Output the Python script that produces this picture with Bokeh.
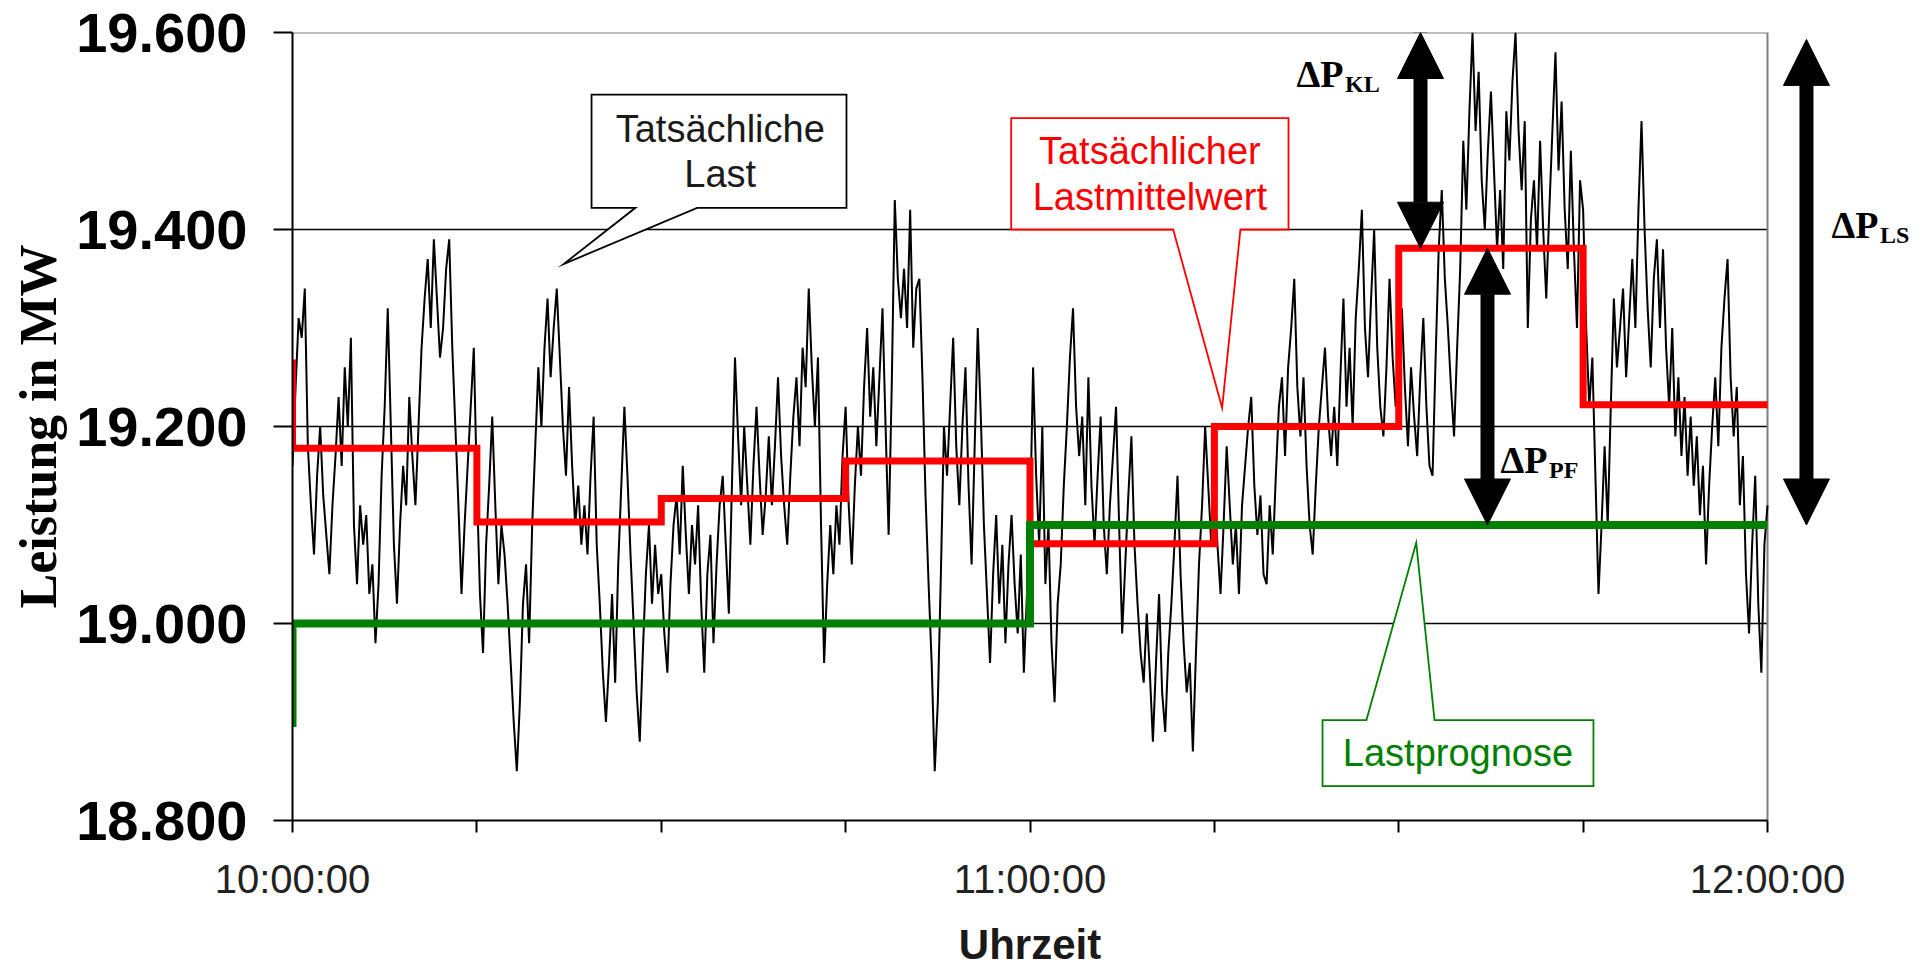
from bokeh.plotting import figure
from bokeh.models import FixedTicker, Arrow, NormalHead, Label, LinearAxis
from bokeh.embed import file_html
from bokeh.resources import INLINE

# ------------------------------------------------------------------ data
SAMPLE_MIN = 0.25  # one reading every 15 s, minutes after 10:00:00
load_mw = [
    19160, 19240, 19310, 19290, 19340, 19180, 19120, 19070, 19150, 19200, 19130, 19090, 19050, 19120, 19170, 19230, 19160, 19260, 19200, 19290,
    19100, 19040, 19120, 19080, 19110, 19030, 19060, 18980, 19040, 19150, 19220, 19320, 19200, 19080, 19020, 19100, 19160, 19120, 19230, 19170,
    19120, 19200, 19280, 19330, 19370, 19300, 19390, 19330, 19270, 19300, 19360, 19390, 19280, 19200, 19120, 19030, 19100, 19160, 19220, 19280,
    19140, 19030, 18970, 19080, 19140, 19210, 19120, 19040, 19100, 19070, 19020, 18960, 18900, 18850, 18920, 19020, 19060, 18980, 19100, 19180,
    19260, 19200, 19280, 19330, 19250, 19300, 19340, 19270, 19200, 19150, 19240, 19160, 19100, 19140, 19080, 19120, 19070, 19150, 19210, 19080,
    19020, 18950, 18900, 18960, 19030, 18940, 19060, 19140, 19220, 19150, 19070, 19000, 18930, 18880, 18970, 19050, 19100, 19020, 19080, 19030,
    19050, 18990, 18950, 19040, 19100, 19130, 19070, 19160, 19090, 19030, 19100, 19060, 19120, 19020, 18950, 19050, 19090, 18980, 19060, 19120,
    19150, 19080, 19010, 19140, 19270, 19190, 19120, 19200, 19140, 19080, 19160, 19220, 19150, 19090, 19130, 19190, 19120, 19180, 19250, 19170,
    19120, 19080, 19150, 19210, 19250, 19180, 19280, 19240, 19340, 19260, 19200, 19270, 19100, 18960, 19040, 19100, 19050, 19120, 19080, 19170,
    19220, 19120, 19060, 19140, 19200, 19150, 19240, 19300, 19210, 19260, 19180, 19250, 19320, 19200, 19090, 19240, 19430, 19350, 19310, 19360,
    19300, 19420, 19280, 19340, 19350, 19250, 19130, 19040, 18960, 18850, 18920, 19050, 19200, 19150, 19220, 19290, 19180, 19120, 19200, 19260,
    19140, 19060, 19180, 19300, 19210, 19100, 19030, 18960, 19050, 19110, 19020, 19080, 18980, 19060, 19110, 19040, 18990, 19070, 18950, 19030,
    19100, 19260, 19150, 19080, 19200, 19040, 19100, 18980, 18920, 19020, 19060, 19140, 19200, 19270, 19320, 19220, 19170, 19210, 19120, 19250,
    19140, 19080, 19150, 19210, 19100, 19050, 19120, 19170, 19220, 19100, 18990, 19060, 19130, 19190, 19080, 19020, 18970, 18940, 19010, 18950,
    18880, 18960, 19030, 18930, 18890, 18970, 19020, 19080, 19150, 19050, 18980, 18930, 18960, 18870, 18970, 19060, 19120, 19200, 19140, 19080,
    19150, 19080, 19030, 19100, 19180, 19120, 19060, 19100, 19030, 19120, 19160, 19200, 19230, 19140, 19090, 19130, 19050, 19040, 19120, 19070,
    19150, 19220, 19250, 19170, 19260, 19300, 19350, 19240, 19190, 19250, 19160, 19100, 19070, 19140, 19200, 19240, 19280, 19210, 19170, 19220,
    19160, 19250, 19330, 19220, 19280, 19200, 19310, 19360, 19420, 19300, 19250, 19330, 19400, 19280, 19220, 19190, 19260, 19350, 19270, 19220,
    19280, 19320, 19240, 19180, 19260, 19210, 19170, 19250, 19310, 19220, 19160, 19150, 19270, 19380, 19440, 19350, 19300, 19240, 19190, 19280,
    19360, 19490, 19420, 19520, 19600, 19500, 19560, 19450, 19400, 19480, 19540, 19460, 19380, 19440, 19360, 19520, 19470, 19550, 19600, 19500,
    19440, 19510, 19300, 19410, 19450, 19380, 19490, 19400, 19330, 19420, 19500, 19580, 19460, 19530, 19420, 19360, 19480, 19380, 19300, 19450,
    19420, 19300, 19220, 19270, 19150, 19030, 19100, 19180, 19100, 19220, 19330, 19260, 19300, 19340, 19250, 19310, 19370, 19300, 19420, 19510,
    19400, 19320, 19260, 19350, 19390, 19300, 19380, 19280, 19220, 19300, 19190, 19250, 19170, 19230, 19150, 19210, 19140, 19190, 19110, 19160,
    19060, 19140, 19200, 19250, 19180, 19280, 19330, 19370, 19250, 19190, 19240, 19120, 19170, 19050, 18990, 19080, 19150, 19020, 18950, 19080, 19120,
]
load_min = [i * SAMPLE_MIN for i in range(len(load_mw))]

mean_edges_min = [0, 15, 30, 45, 60, 75, 90, 105, 120]
mean_mw = [19178, 19103, 19127, 19165, 19081, 19200, 19381, 19222]
mean_prev_mw = 19268

forecast_edges_min = [0, 60, 120]
forecast_mw = [19000, 19100]
forecast_prev_mw = 18895

y_ticks_mw = [18800, 19000, 19200, 19400, 19600]
x_ticks_min = [0, 15, 30, 45, 60, 75, 90, 105, 120]
x_tick_text = {0: "10:00:00", 60: "11:00:00", 120: "12:00:00"}
x_title = "Uhrzeit"
y_title = "Leistung in MW"

# ------------------------------------------------------------------ layout
W, H = 1927, 971
FRAME_L, FRAME_T, FRAME_B = 292, 32, 151
AXIS_RIGHT_PX = 1767
X_END = 120 * (W - FRAME_L) / (AXIS_RIGHT_PX - FRAME_L)
PX_PER_MW = (H - FRAME_T - FRAME_B) / 800.0
TEXT_SHIFT = 14 / PX_PER_MW   # renderer places text a little low; lift it

SANS = "Liberation Sans"
SERIF = "Liberation Serif"

p = figure(width=W, height=H, x_range=(0, X_END), y_range=(18800, 19600),
           output_backend="svg", toolbar_location=None,
           min_border_left=FRAME_L, min_border_right=0,
           min_border_top=FRAME_T, min_border_bottom=FRAME_B)
p.grid.visible = False
p.outline_line_color = None
p.background_fill_color = "white"
p.border_fill_color = "white"

# x axis
xa = p.xaxis[0]
xa.ticker = FixedTicker(ticks=x_ticks_min)
xa.major_label_overrides = {t: x_tick_text.get(t, "") for t in x_ticks_min}
xa.bounds = (0, 120)
xa.axis_line_color = "black"
xa.axis_line_width = 2
xa.major_tick_line_color = "black"
xa.major_tick_line_width = 2
xa.major_tick_out = 12
xa.major_tick_in = 0
xa.minor_tick_out = 0
xa.minor_tick_in = 0
xa.major_label_text_font = SANS
xa.major_label_text_font_size = "40px"
xa.major_label_text_color = "#222222"
xa.major_label_standoff = 24

# x-axis title: centred under 10:00 .. 12:00 (the frame itself runs further right)
x_mid = (x_ticks_min[0] + x_ticks_min[-1]) / 2
title_axis = LinearAxis(ticker=FixedTicker(ticks=[x_mid]),
                        major_label_overrides={x_mid: x_title},
                        axis_line_color=None, major_tick_line_color=None,
                        minor_tick_line_color=None,
                        major_tick_out=0, major_tick_in=0,
                        minor_tick_out=0, minor_tick_in=0,
                        major_label_standoff=17,
                        major_label_text_font=SANS,
                        major_label_text_font_style="bold",
                        major_label_text_font_size="42px",
                        major_label_text_color="#1a1a1a")
p.add_layout(title_axis, "below")

# y axis
ya = p.yaxis[0]
ya.ticker = FixedTicker(ticks=y_ticks_mw)
ya.major_label_overrides = {v: f"{v:,}".replace(",", ".") for v in y_ticks_mw}
ya.axis_line_color = "black"
ya.axis_line_width = 2
ya.major_tick_line_color = "black"
ya.major_tick_line_width = 2
ya.major_tick_out = 19
ya.major_tick_in = 0
ya.minor_tick_out = 0
ya.minor_tick_in = 0
ya.major_label_text_font = SANS
ya.major_label_text_font_style = "bold"
ya.major_label_text_font_size = "56px"
ya.major_label_text_color = "black"
ya.major_label_standoff = 26
ya.axis_label = y_title
ya.axis_label_text_font = SERIF
ya.axis_label_text_font_style = "bold"
ya.axis_label_text_font_size = "52px"
ya.axis_label_text_color = "black"
ya.axis_label_standoff = 6

# gridlines and plot-area border (only over 10:00 .. 12:00)
grid_y = [v for v in y_ticks_mw if y_ticks_mw[0] < v < y_ticks_mw[-1]]
p.segment(x0=[0] * len(grid_y), x1=[120] * len(grid_y), y0=grid_y, y1=grid_y,
          line_color="black", line_width=1.6)
p.line([0, 120, 120], [y_ticks_mw[-1], y_ticks_mw[-1], y_ticks_mw[0]],
       line_color="#7f7f7f", line_width=2)


# ------------------------------------------------------------------ series
def step_path(edges, vals, prev):
    xs, ys = [edges[0]], [prev]
    for i, v in enumerate(vals):
        xs += [edges[i], edges[i + 1]]
        ys += [v, v]
    return xs, ys


p.line(load_min, load_mw, line_color="black", line_width=2.0)

mx, my = step_path(mean_edges_min, mean_mw, mean_prev_mw)
p.line(mx, my, line_color="#ff0000", line_width=7, line_join="miter")

fx, fy = step_path(forecast_edges_min, forecast_mw, forecast_prev_mw)
p.line(fx, fy, line_color="#008000", line_width=8, line_join="miter")


# ------------------------------------------------------------------ callouts
def callout(left, right, top, bottom, b0, b1, tip_x, tip_y, color, tail_down=True):
    if tail_down:
        xs = [left, right, right, b1, tip_x, b0, left]
        ys = [top, top, bottom, bottom, tip_y, bottom, bottom]
    else:
        xs = [left, right, right, b1, tip_x, b0, left]
        ys = [bottom, bottom, top, top, tip_y, top, top]
    p.patch(xs, ys, fill_color="white", line_color=color, line_width=1.8,
            line_join="miter")


def text(x, y, s, color, size="38px", font=SANS, style="normal", align="center",
         baseline="alphabetic"):
    p.add_layout(Label(x=x, y=y + TEXT_SHIFT, text=s, text_color=color, text_font=font,
                       text_font_size=size, text_font_style=style,
                       text_align=align, text_baseline=baseline))


callout(24.33, 45.07, 19537, 19422, 27.90, 32.92, 22.07, 19365, "black")
text(34.8, 19488, "Tatsächliche", "#1a1a1a")
text(34.8, 19442, "Last", "#1a1a1a")

callout(58.47, 81.03, 19513, 19400, 71.65, 77.12, 75.63, 19219, "#ff0000")
text(69.75, 19465, "Tatsächlicher", "#ff0000")
text(69.75, 19419, "Lastmittelwert", "#ff0000")

callout(83.80, 105.84, 18902, 18835, 87.37, 92.91, 91.42, 19082, "#008000",
        tail_down=False)
text(94.82, 18854, "Lastprognose", "#008000")


# ------------------------------------------------------------------ delta-P arrows
def dbl_arrow(x, y0, y1):
    p.add_layout(Arrow(x_start=x, y_start=y0, x_end=x, y_end=y1,
                       start=NormalHead(size=46, fill_color="black", line_color="black"),
                       end=NormalHead(size=46, fill_color="black", line_color="black"),
                       line_color="black", line_width=14))


top_mw = y_ticks_mw[-1]
dbl_arrow(91.77, top_mw, max(mean_mw))                 # ΔP_KL
dbl_arrow(97.22, max(mean_mw), forecast_mw[-1])        # ΔP_PF
dbl_arrow(123.17, top_mw - 7, forecast_mw[-1])         # ΔP_LS


def dp_label(x, y, sub):
    text(x, y, "ΔP", "black", size="38px", font=SERIF, style="bold", align="left")
    text(x + 3.95, y - 10, sub, "black", size="24px", font=SERIF, style="bold", align="left")


dp_label(81.68, 19544, "KL")
dp_label(98.28, 19152, "PF")
dp_label(125.2, 19390, "LS")

open("out.html", "w").write(file_html(p, INLINE))
